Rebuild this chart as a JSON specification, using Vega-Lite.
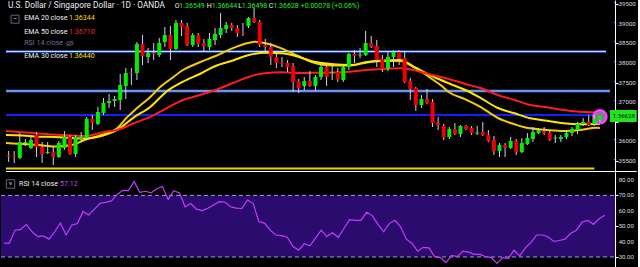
{
"$schema": "https://vega.github.io/schema/vega-lite/v6.json",
"background": "#000000",
"padding": 0,
"spacing": 0,
"bounds": "flush",
"config": {"view": {"stroke": null}, "font": "Roboto"},
"datasets": {
"c": [
{"i":0,"o":1.35640,"h":1.35755,"l":1.35475,"c":1.35615,"r":39.0},
{"i":1,"o":1.35640,"h":1.35755,"l":1.35449,"c":1.35615,"r":39.0},
{"i":2,"o":1.35576,"h":1.36213,"l":1.35551,"c":1.35984,"r":47.4},
{"i":3,"o":1.35959,"h":1.36060,"l":1.35882,"c":1.35984,"r":47.9},
{"i":4,"o":1.35831,"h":1.36111,"l":1.35806,"c":1.36035,"r":51.2},
{"i":5,"o":1.36162,"h":1.36239,"l":1.35602,"c":1.35857,"r":46.4},
{"i":6,"o":1.35857,"h":1.35984,"l":1.35449,"c":1.35678,"r":43.2},
{"i":7,"o":1.35704,"h":1.35984,"l":1.35678,"c":1.35729,"r":43.7},
{"i":8,"o":1.35729,"h":1.35857,"l":1.35398,"c":1.35602,"r":41.6},
{"i":9,"o":1.35602,"h":1.36010,"l":1.35576,"c":1.35959,"r":46.4},
{"i":10,"o":1.35831,"h":1.36264,"l":1.35780,"c":1.36111,"r":52.1},
{"i":11,"o":1.36111,"h":1.36162,"l":1.35653,"c":1.35678,"r":44.3},
{"i":12,"o":1.35678,"h":1.36162,"l":1.35602,"c":1.36111,"r":50.6},
{"i":13,"o":1.36060,"h":1.36239,"l":1.35984,"c":1.36111,"r":51.7},
{"i":14,"o":1.36086,"h":1.36621,"l":1.36035,"c":1.36570,"r":59.6},
{"i":15,"o":1.36570,"h":1.36672,"l":1.36290,"c":1.36468,"r":57.3},
{"i":16,"o":1.36443,"h":1.36876,"l":1.36417,"c":1.36749,"r":61.1},
{"i":17,"o":1.36723,"h":1.37105,"l":1.36672,"c":1.36978,"r":64.9},
{"i":18,"o":1.36978,"h":1.37207,"l":1.36850,"c":1.37029,"r":65.5},
{"i":19,"o":1.37029,"h":1.37156,"l":1.36876,"c":1.37080,"r":66.4},
{"i":20,"o":1.37054,"h":1.37717,"l":1.36799,"c":1.37436,"r":70.6},
{"i":21,"o":1.37411,"h":1.37870,"l":1.37080,"c":1.37742,"r":73.3},
{"i":22,"o":1.37755,"h":1.37870,"l":1.37436,"c":1.37729,"r":73.1},
{"i":23,"o":1.37742,"h":1.38532,"l":1.37564,"c":1.38481,"r":79.0},
{"i":24,"o":1.38481,"h":1.38710,"l":1.37946,"c":1.38175,"r":72.0},
{"i":25,"o":1.38150,"h":1.38379,"l":1.37997,"c":1.38252,"r":72.7},
{"i":26,"o":1.38252,"h":1.38506,"l":1.38073,"c":1.38213,"r":71.6},
{"i":27,"o":1.38201,"h":1.38634,"l":1.38150,"c":1.38506,"r":74.3},
{"i":28,"o":1.38532,"h":1.38914,"l":1.38405,"c":1.38710,"r":75.8},
{"i":29,"o":1.38710,"h":1.38940,"l":1.38073,"c":1.38354,"r":67.4},
{"i":30,"o":1.38354,"h":1.39092,"l":1.38328,"c":1.39016,"r":73.1},
{"i":31,"o":1.39016,"h":1.39092,"l":1.38685,"c":1.38914,"r":71.6},
{"i":32,"o":1.38940,"h":1.39016,"l":1.38430,"c":1.38455,"r":62.6},
{"i":33,"o":1.38455,"h":1.38761,"l":1.38405,"c":1.38710,"r":64.7},
{"i":34,"o":1.38710,"h":1.38761,"l":1.38405,"c":1.38481,"r":61.1},
{"i":35,"o":1.38506,"h":1.38608,"l":1.38277,"c":1.38430,"r":60.1},
{"i":36,"o":1.38405,"h":1.38761,"l":1.38328,"c":1.38608,"r":61.7},
{"i":37,"o":1.38583,"h":1.38889,"l":1.38455,"c":1.38736,"r":63.8},
{"i":38,"o":1.38710,"h":1.39271,"l":1.38634,"c":1.38889,"r":65.9},
{"i":39,"o":1.38863,"h":1.39042,"l":1.38761,"c":1.38965,"r":65.7},
{"i":40,"o":1.38965,"h":1.39016,"l":1.38812,"c":1.38889,"r":62.6},
{"i":41,"o":1.38889,"h":1.38965,"l":1.38659,"c":1.38761,"r":61.7},
{"i":42,"o":1.38774,"h":1.39016,"l":1.38685,"c":1.38749,"r":61.5},
{"i":43,"o":1.38940,"h":1.39169,"l":1.38889,"c":1.39143,"r":67.0},
{"i":44,"o":1.39143,"h":1.39398,"l":1.39016,"c":1.39042,"r":64.7},
{"i":45,"o":1.39042,"h":1.39092,"l":1.38405,"c":1.38455,"r":53.0},
{"i":46,"o":1.38455,"h":1.38608,"l":1.38252,"c":1.38405,"r":52.0},
{"i":47,"o":1.38405,"h":1.38506,"l":1.37946,"c":1.38150,"r":47.4},
{"i":48,"o":1.38150,"h":1.38252,"l":1.37870,"c":1.37997,"r":44.3},
{"i":49,"o":1.38010,"h":1.38150,"l":1.37895,"c":1.37984,"r":43.9},
{"i":50,"o":1.37997,"h":1.38073,"l":1.37768,"c":1.37895,"r":42.8},
{"i":51,"o":1.37920,"h":1.37997,"l":1.37258,"c":1.37513,"r":37.0},
{"i":52,"o":1.37538,"h":1.37589,"l":1.37233,"c":1.37360,"r":34.4},
{"i":53,"o":1.37411,"h":1.37640,"l":1.37309,"c":1.37538,"r":38.6},
{"i":54,"o":1.37538,"h":1.37793,"l":1.37385,"c":1.37411,"r":37.3},
{"i":55,"o":1.37411,"h":1.37691,"l":1.37283,"c":1.37640,"r":42.2},
{"i":56,"o":1.37640,"h":1.37997,"l":1.37564,"c":1.37895,"r":47.4},
{"i":57,"o":1.37895,"h":1.37946,"l":1.37411,"c":1.37640,"r":43.2},
{"i":58,"o":1.37742,"h":1.37946,"l":1.37564,"c":1.37768,"r":45.8},
{"i":59,"o":1.37768,"h":1.37870,"l":1.37513,"c":1.37589,"r":42.8},
{"i":60,"o":1.37564,"h":1.37946,"l":1.37513,"c":1.37895,"r":48.5},
{"i":61,"o":1.37895,"h":1.38252,"l":1.37819,"c":1.38226,"r":54.2},
{"i":62,"o":1.38226,"h":1.38328,"l":1.37997,"c":1.38175,"r":53.8},
{"i":63,"o":1.38188,"h":1.38379,"l":1.38124,"c":1.38213,"r":53.8},
{"i":64,"o":1.38201,"h":1.38812,"l":1.38175,"c":1.38506,"r":59.0},
{"i":65,"o":1.38506,"h":1.38685,"l":1.38379,"c":1.38405,"r":56.9},
{"i":66,"o":1.38430,"h":1.38583,"l":1.37895,"c":1.38073,"r":51.2},
{"i":67,"o":1.38099,"h":1.38201,"l":1.37768,"c":1.37844,"r":46.4},
{"i":68,"o":1.37844,"h":1.38277,"l":1.37793,"c":1.38150,"r":51.7},
{"i":69,"o":1.38150,"h":1.38328,"l":1.37895,"c":1.38277,"r":53.8},
{"i":70,"o":1.38277,"h":1.38328,"l":1.37946,"c":1.38099,"r":49.6},
{"i":71,"o":1.38124,"h":1.38277,"l":1.37487,"c":1.37513,"r":41.6},
{"i":72,"o":1.37538,"h":1.37615,"l":1.37054,"c":1.37334,"r":39.0},
{"i":73,"o":1.37360,"h":1.37385,"l":1.36774,"c":1.36927,"r":33.8},
{"i":74,"o":1.36927,"h":1.37182,"l":1.36850,"c":1.37080,"r":36.3},
{"i":75,"o":1.37080,"h":1.37334,"l":1.36952,"c":1.36978,"r":35.9},
{"i":76,"o":1.37003,"h":1.37080,"l":1.36366,"c":1.36468,"r":30.2},
{"i":77,"o":1.36468,"h":1.36621,"l":1.36290,"c":1.36417,"r":29.6},
{"i":78,"o":1.36392,"h":1.36443,"l":1.36035,"c":1.36111,"r":26.4},
{"i":79,"o":1.36111,"h":1.36366,"l":1.36060,"c":1.36315,"r":31.1},
{"i":80,"o":1.36315,"h":1.36468,"l":1.36162,"c":1.36188,"r":30.2},
{"i":81,"o":1.36188,"h":1.36417,"l":1.36111,"c":1.36392,"r":33.8},
{"i":82,"o":1.36392,"h":1.36417,"l":1.36290,"c":1.36315,"r":33.2},
{"i":83,"o":1.36341,"h":1.36392,"l":1.36162,"c":1.36213,"r":31.7},
{"i":84,"o":1.36201,"h":1.36392,"l":1.36162,"c":1.36226,"r":31.7},
{"i":85,"o":1.36239,"h":1.36494,"l":1.36137,"c":1.36162,"r":30.2},
{"i":86,"o":1.36162,"h":1.36290,"l":1.35984,"c":1.36010,"r":29.6},
{"i":87,"o":1.36035,"h":1.36137,"l":1.35653,"c":1.35755,"r":25.8},
{"i":88,"o":1.35755,"h":1.35959,"l":1.35602,"c":1.35908,"r":29.6},
{"i":89,"o":1.35908,"h":1.35959,"l":1.35602,"c":1.35831,"r":29.0},
{"i":90,"o":1.35831,"h":1.36111,"l":1.35806,"c":1.36010,"r":34.4},
{"i":91,"o":1.36010,"h":1.36060,"l":1.35653,"c":1.35729,"r":30.7},
{"i":92,"o":1.35729,"h":1.36086,"l":1.35704,"c":1.35959,"r":35.9},
{"i":93,"o":1.35933,"h":1.36213,"l":1.35908,"c":1.36086,"r":39.5},
{"i":94,"o":1.36060,"h":1.36366,"l":1.35984,"c":1.36239,"r":44.3},
{"i":95,"o":1.36213,"h":1.36341,"l":1.36188,"c":1.36290,"r":44.3},
{"i":96,"o":1.36264,"h":1.36366,"l":1.36162,"c":1.36213,"r":43.2},
{"i":97,"o":1.36213,"h":1.36264,"l":1.36010,"c":1.36035,"r":40.1},
{"i":98,"o":1.36073,"h":1.36162,"l":1.35959,"c":1.36099,"r":40.7},
{"i":99,"o":1.36060,"h":1.36162,"l":1.35984,"c":1.36111,"r":41.6},
{"i":100,"o":1.36111,"h":1.36290,"l":1.36060,"c":1.36213,"r":45.4},
{"i":101,"o":1.36213,"h":1.36366,"l":1.36137,"c":1.36315,"r":47.4},
{"i":102,"o":1.36290,"h":1.36494,"l":1.36188,"c":1.36443,"r":52.7},
{"i":103,"o":1.36443,"h":1.36596,"l":1.36392,"c":1.36494,"r":53.8},
{"i":104,"o":1.36494,"h":1.36672,"l":1.36392,"c":1.36417,"r":51.2},
{"i":105,"o":1.36443,"h":1.36672,"l":1.36392,"c":1.36570,"r":54.8},
{"i":106,"o":1.36549,"h":1.36644,"l":1.36498,"c":1.36628,"r":57.12}
],
"ema": [
{"s":"e20","i":-0.48,"p":1.35959},{"s":"e20","i":2.52,"p":1.35933},{"s":"e20","i":5.34,"p":1.35908},{"s":"e20","i":8.34,"p":1.35870},{"s":"e20","i":11.34,"p":1.35908},{"s":"e20","i":13.63,"p":1.36035},{"s":"e20","i":16.63,"p":1.36162},{"s":"e20","i":19.45,"p":1.36333},{"s":"e20","i":21.22,"p":1.36613},{"s":"e20","i":22.98,"p":1.36843},{"s":"e20","i":25.45,"p":1.37138},{"s":"e20","i":27.21,"p":1.37393},{"s":"e20","i":28.98,"p":1.37582},{"s":"e20","i":31.27,"p":1.37819},{"s":"e20","i":34.27,"p":1.38015},{"s":"e20","i":37.09,"p":1.38175},{"s":"e20","i":40.09,"p":1.38371},{"s":"e20","i":43.09,"p":1.38514},{"s":"e20","i":44.15,"p":1.38540},{"s":"e20","i":46.61,"p":1.38481},{"s":"e20","i":48.91,"p":1.38371},{"s":"e20","i":51.90,"p":1.38175},{"s":"e20","i":54.20,"p":1.38030},{"s":"e20","i":58.25,"p":1.37933},{"s":"e20","i":61.25,"p":1.37933},{"s":"e20","i":64.25,"p":1.38010},{"s":"e20","i":67.07,"p":1.38048},{"s":"e20","i":70.07,"p":1.38048},{"s":"e20","i":73.07,"p":1.37857},{"s":"e20","i":75.89,"p":1.37589},{"s":"e20","i":77.65,"p":1.37411},{"s":"e20","i":78.89,"p":1.37258},{"s":"e20","i":81.89,"p":1.37072},{"s":"e20","i":84.71,"p":1.36868},{"s":"e20","i":87.71,"p":1.36596},{"s":"e20","i":90.71,"p":1.36435},{"s":"e20","i":92.47,"p":1.36359},{"s":"e20","i":93.53,"p":1.36333},{"s":"e20","i":96.52,"p":1.36290},{"s":"e20","i":99.52,"p":1.36264},{"s":"e20","i":102.34,"p":1.36290},{"s":"e20","i":105.34,"p":1.36348},{"s":"e20","i":106.0,"p":1.36344},
{"s":"e30","i":-0.48,"p":1.36162},{"s":"e30","i":2.52,"p":1.36150},{"s":"e30","i":5.34,"p":1.36119},{"s":"e30","i":8.34,"p":1.36111},{"s":"e30","i":11.34,"p":1.36086},{"s":"e30","i":13.63,"p":1.36073},{"s":"e30","i":16.63,"p":1.36137},{"s":"e30","i":19.45,"p":1.36290},{"s":"e30","i":22.45,"p":1.36613},{"s":"e30","i":25.45,"p":1.36884},{"s":"e30","i":28.27,"p":1.37266},{"s":"e30","i":31.27,"p":1.37520},{"s":"e30","i":34.27,"p":1.37717},{"s":"e30","i":37.09,"p":1.37920},{"s":"e30","i":40.09,"p":1.38056},{"s":"e30","i":43.09,"p":1.38201},{"s":"e30","i":45.91,"p":1.38259},{"s":"e30","i":48.91,"p":1.38244},{"s":"e30","i":51.90,"p":1.38157},{"s":"e30","i":54.20,"p":1.38048},{"s":"e30","i":58.25,"p":1.37964},{"s":"e30","i":61.25,"p":1.37946},{"s":"e30","i":64.25,"p":1.38022},{"s":"e30","i":67.07,"p":1.38061},{"s":"e30","i":70.07,"p":1.38073},{"s":"e30","i":73.07,"p":1.37870},{"s":"e30","i":75.89,"p":1.37666},{"s":"e30","i":78.89,"p":1.37480},{"s":"e30","i":81.89,"p":1.37309},{"s":"e30","i":84.71,"p":1.37098},{"s":"e30","i":87.71,"p":1.36850},{"s":"e30","i":90.71,"p":1.36715},{"s":"e30","i":93.53,"p":1.36588},{"s":"e30","i":96.52,"p":1.36527},{"s":"e30","i":99.52,"p":1.36461},{"s":"e30","i":102.34,"p":1.36435},{"s":"e30","i":105.34,"p":1.36443},{"s":"e30","i":106.0,"p":1.36440},
{"s":"e50","i":-0.48,"p":1.36264},{"s":"e50","i":5.34,"p":1.36201},{"s":"e50","i":11.34,"p":1.36150},{"s":"e50","i":13.63,"p":1.36137},{"s":"e50","i":17.16,"p":1.36239},{"s":"e50","i":19.45,"p":1.36290},{"s":"e50","i":22.45,"p":1.36461},{"s":"e50","i":25.45,"p":1.36629},{"s":"e50","i":28.27,"p":1.36843},{"s":"e50","i":31.27,"p":1.37054},{"s":"e50","i":34.27,"p":1.37182},{"s":"e50","i":37.09,"p":1.37309},{"s":"e50","i":40.09,"p":1.37480},{"s":"e50","i":43.09,"p":1.37648},{"s":"e50","i":45.91,"p":1.37734},{"s":"e50","i":48.91,"p":1.37760},{"s":"e50","i":52.43,"p":1.37742},{"s":"e50","i":55.43,"p":1.37750},{"s":"e50","i":58.25,"p":1.37755},{"s":"e50","i":61.25,"p":1.37775},{"s":"e50","i":64.25,"p":1.37819},{"s":"e50","i":67.07,"p":1.37844},{"s":"e50","i":70.07,"p":1.37862},{"s":"e50","i":73.07,"p":1.37801},{"s":"e50","i":75.89,"p":1.37691},{"s":"e50","i":78.89,"p":1.37589},{"s":"e50","i":81.89,"p":1.37462},{"s":"e50","i":84.71,"p":1.37352},{"s":"e50","i":87.71,"p":1.37182},{"s":"e50","i":90.71,"p":1.37054},{"s":"e50","i":93.53,"p":1.36927},{"s":"e50","i":96.52,"p":1.36868},{"s":"e50","i":99.52,"p":1.36799},{"s":"e50","i":102.34,"p":1.36756},{"s":"e50","i":105.34,"p":1.36731},{"s":"e50","i":106.0,"p":1.36710}
],
"hl": [
{"k":"lb","p":1.38290,"a":-0.476,"b":107.1},
{"k":"lb","p":1.37283,"a":-0.476,"b":107.81},
{"k":"b","p":1.36672,"a":-0.476,"b":106.0}
],
"pt": [{"v":1.355},{"v":1.36},{"v":1.37},{"v":1.375},{"v":1.38},{"v":1.385},{"v":1.39},{"v":1.395}],
"rt": [{"v":30},{"v":40},{"v":50},{"v":60},{"v":70},{"v":80}]
},
"vconcat": [
{
"width": 614,
"height": 172,
"layer": [
{"data":{"values":[{"a":-0.476,"b":105.0,"p":1.35309}]},"mark":{"type":"rule","color":"#f2d200","strokeWidth":2},
 "encoding":{"x":{"field":"a","type":"quantitative","scale":{"domain":[-0.476,107.81],"nice":false,"zero":false},"axis":null},"x2":{"field":"b"},
 "y":{"field":"p","type":"quantitative","scale":{"domain":[1.3522,1.39602],"nice":false,"zero":false},
  "axis":{"orient":"right","values":[1.355,1.36,1.365,1.37,1.375,1.38,1.385,1.39,1.395],"title":null,"grid":false,"domain":true,"domainColor":"#ffffff","domainWidth":1,"ticks":true,"tickColor":"#ffffff","tickSize":3,"labels":false}}}},
{"data":{"name":"pt"},"mark":{"type":"text","align":"left","baseline":"middle","fontSize":6.1,"color":"#dcdce8","clip":false},
 "encoding":{"x":{"datum":108.45,"type":"quantitative","scale":{"domain":[-0.476,107.81],"nice":false,"zero":false},"axis":null},"y":{"field":"v","type":"quantitative","scale":{"domain":[1.3522,1.39602],"nice":false,"zero":false}},"text":{"field":"v","type":"quantitative","format":".5f"}}},
{"data":{"name":"hl"},"transform":[{"filter":"datum.k == 'lb'"}],"mark":{"type":"rule","color":"#2f5bff","strokeWidth":3,"opacity":0.75},
 "encoding":{"x":{"field":"a","type":"quantitative","scale":{"domain":[-0.476,107.81],"nice":false,"zero":false},"axis":null},"x2":{"field":"b"},"y":{"field":"p","type":"quantitative","scale":{"domain":[1.3522,1.39602],"nice":false,"zero":false}}}},
{"data":{"name":"hl"},"transform":[{"filter":"datum.k == 'lb'"}],"mark":{"type":"rule","color":"#c0e6ff","strokeWidth":1.2},
 "encoding":{"x":{"field":"a","type":"quantitative","scale":{"domain":[-0.476,107.81],"nice":false,"zero":false},"axis":null},"x2":{"field":"b"},"y":{"field":"p","type":"quantitative","scale":{"domain":[1.3522,1.39602],"nice":false,"zero":false}}}},
{"data":{"name":"hl"},"transform":[{"filter":"datum.k == 'b'"}],"mark":{"type":"rule","color":"#1020ff","strokeWidth":2},
 "encoding":{"x":{"field":"a","type":"quantitative","scale":{"domain":[-0.476,107.81],"nice":false,"zero":false},"axis":null},"x2":{"field":"b"},"y":{"field":"p","type":"quantitative","scale":{"domain":[1.3522,1.39602],"nice":false,"zero":false}}}},
{"data":{"name":"ema"},"mark":{"type":"line","strokeWidth":2,"interpolate":"monotone"},
 "encoding":{"x":{"field":"i","type":"quantitative","scale":{"domain":[-0.476,107.81],"nice":false,"zero":false},"axis":null},"y":{"field":"p","type":"quantitative","scale":{"domain":[1.3522,1.39602],"nice":false,"zero":false}},
  "color":{"field":"s","type":"nominal","scale":{"domain":["e50","e30","e20"],"range":["#ff1c1c","#ffe600","#f5cc00"]},"legend":null}}},
{"data":{"values":[{}]},"mark":{"type":"point","filled":true,"size":170,"fill":"#7d7d95","stroke":"#ff3dff","strokeWidth":2.5,"opacity":1},
 "encoding":{"x":{"datum":106,"type":"quantitative","scale":{"domain":[-0.476,107.81],"nice":false,"zero":false},"axis":null},"y":{"datum":1.36628,"type":"quantitative","scale":{"domain":[1.3522,1.39602],"nice":false,"zero":false}}}},
{"data":{"name":"c"},"mark":{"type":"rule","color":"#d0d0ee","strokeWidth":1},
 "encoding":{"x":{"field":"i","type":"quantitative","scale":{"domain":[-0.476,107.81],"nice":false,"zero":false},"axis":null},"y":{"field":"l","type":"quantitative","scale":{"domain":[1.3522,1.39602],"nice":false,"zero":false}},"y2":{"field":"h"}}},
{"data":{"name":"c"},"mark":{"type":"bar","size":4},
 "encoding":{"x":{"field":"i","type":"quantitative","scale":{"domain":[-0.476,107.81],"nice":false,"zero":false},"axis":null},"y":{"field":"o","type":"quantitative","scale":{"domain":[1.3522,1.39602],"nice":false,"zero":false}},"y2":{"field":"c"},
  "color":{"condition":{"test":"datum.c >= datum.o","value":"#00f000"},"value":"#f00000"}}},
{"data":{"values":[{}]},"mark":{"type":"rect","color":"#1ee61e","clip":false},
 "encoding":{"x":{"datum":107.81,"type":"quantitative","scale":{"domain":[-0.476,107.81],"nice":false,"zero":false},"axis":null},"x2":{"datum":112.6},"y":{"datum":1.36799,"type":"quantitative","scale":{"domain":[1.3522,1.39602],"nice":false,"zero":false}},"y2":{"datum":1.36494}}},
{"data":{"values":[{}]},"mark":{"type":"text","align":"left","baseline":"middle","fontSize":6.1,"color":"#0a0a0a","clip":false},
 "encoding":{"x":{"datum":108.3,"type":"quantitative","scale":{"domain":[-0.476,107.81],"nice":false,"zero":false},"axis":null},"y":{"datum":1.36647,"type":"quantitative","scale":{"domain":[1.3522,1.39602],"nice":false,"zero":false}},"text":{"value":"1.36628"}}},
{"data":{"values":[{}]},"mark":{"type":"rule","color":"#ffffff","strokeWidth":1,"clip":false},
 "encoding":{"x":{"datum":-0.476,"type":"quantitative","scale":{"domain":[-0.476,107.81],"nice":false,"zero":false},"axis":null},"x2":{"datum":112.6},"y":{"datum":1.35233,"type":"quantitative","scale":{"domain":[1.3522,1.39602],"nice":false,"zero":false}}}},
{"data":{"values":[{}]},"mark":{"type":"text","align":"left","baseline":"middle","fontSize":8.3,"color":"#ececf4"},
 "encoding":{"x":{"datum":-0.12,"type":"quantitative","scale":{"domain":[-0.476,107.81],"nice":false,"zero":false},"axis":null},"y":{"datum":1.39449,"type":"quantitative","scale":{"domain":[1.3522,1.39602],"nice":false,"zero":false}},"text":{"value":"U.S. Dollar / Singapore Dollar · 1D · OANDA"}}},
{"data":{"values":[{}]},"mark":{"type":"text","align":"left","baseline":"middle","fontSize":7,"color":"#ececf4"},
 "encoding":{"x":{"datum":29.77,"type":"quantitative","scale":{"domain":[-0.476,107.81],"nice":false,"zero":false},"axis":null},"y":{"datum":1.39449,"type":"quantitative","scale":{"domain":[1.3522,1.39602],"nice":false,"zero":false}},"text":{"value":"O"}}},
{"data":{"values":[{}]},"mark":{"type":"text","align":"left","baseline":"middle","fontSize":7,"color":"#22ee22"},
 "encoding":{"x":{"datum":30.6,"type":"quantitative","scale":{"domain":[-0.476,107.81],"nice":false,"zero":false},"axis":null},"y":{"datum":1.39449,"type":"quantitative","scale":{"domain":[1.3522,1.39602],"nice":false,"zero":false}},"text":{"value":"1.36549"}}},
{"data":{"values":[{}]},"mark":{"type":"text","align":"left","baseline":"middle","fontSize":7,"color":"#ececf4"},
 "encoding":{"x":{"datum":35.5,"type":"quantitative","scale":{"domain":[-0.476,107.81],"nice":false,"zero":false},"axis":null},"y":{"datum":1.39449,"type":"quantitative","scale":{"domain":[1.3522,1.39602],"nice":false,"zero":false}},"text":{"value":"H"}}},
{"data":{"values":[{}]},"mark":{"type":"text","align":"left","baseline":"middle","fontSize":7,"color":"#22ee22"},
 "encoding":{"x":{"datum":36.4,"type":"quantitative","scale":{"domain":[-0.476,107.81],"nice":false,"zero":false},"axis":null},"y":{"datum":1.39449,"type":"quantitative","scale":{"domain":[1.3522,1.39602],"nice":false,"zero":false}},"text":{"value":"1.36644"}}},
{"data":{"values":[{}]},"mark":{"type":"text","align":"left","baseline":"middle","fontSize":7,"color":"#ececf4"},
 "encoding":{"x":{"datum":41.15,"type":"quantitative","scale":{"domain":[-0.476,107.81],"nice":false,"zero":false},"axis":null},"y":{"datum":1.39449,"type":"quantitative","scale":{"domain":[1.3522,1.39602],"nice":false,"zero":false}},"text":{"value":"L"}}},
{"data":{"values":[{}]},"mark":{"type":"text","align":"left","baseline":"middle","fontSize":7,"color":"#22ee22"},
 "encoding":{"x":{"datum":41.8,"type":"quantitative","scale":{"domain":[-0.476,107.81],"nice":false,"zero":false},"axis":null},"y":{"datum":1.39449,"type":"quantitative","scale":{"domain":[1.3522,1.39602],"nice":false,"zero":false}},"text":{"value":"1.36498"}}},
{"data":{"values":[{}]},"mark":{"type":"text","align":"left","baseline":"middle","fontSize":7,"color":"#ececf4"},
 "encoding":{"x":{"datum":46.61,"type":"quantitative","scale":{"domain":[-0.476,107.81],"nice":false,"zero":false},"axis":null},"y":{"datum":1.39449,"type":"quantitative","scale":{"domain":[1.3522,1.39602],"nice":false,"zero":false}},"text":{"value":"C"}}},
{"data":{"values":[{}]},"mark":{"type":"text","align":"left","baseline":"middle","fontSize":7,"color":"#22ee22"},
 "encoding":{"x":{"datum":47.45,"type":"quantitative","scale":{"domain":[-0.476,107.81],"nice":false,"zero":false},"axis":null},"y":{"datum":1.39449,"type":"quantitative","scale":{"domain":[1.3522,1.39602],"nice":false,"zero":false}},"text":{"value":"1.36628"}}},
{"data":{"values":[{}]},"mark":{"type":"text","align":"left","baseline":"middle","fontSize":7,"color":"#22ee22"},
 "encoding":{"x":{"datum":52.35,"type":"quantitative","scale":{"domain":[-0.476,107.81],"nice":false,"zero":false},"axis":null},"y":{"datum":1.39449,"type":"quantitative","scale":{"domain":[1.3522,1.39602],"nice":false,"zero":false}},"text":{"value":"+0.00078 (+0.06%)"}}},
{"data":{"values":[{}]},"mark":{"type":"point","shape":"square","filled":false,"size":64,"stroke":"#8a90c8","strokeWidth":1},
 "encoding":{"x":{"datum":1.15,"type":"quantitative","scale":{"domain":[-0.476,107.81],"nice":false,"zero":false},"axis":null},"y":{"datum":1.39113,"type":"quantitative","scale":{"domain":[1.3522,1.39602],"nice":false,"zero":false}}}},
{"data":{"values":[{}]},"mark":{"type":"text","align":"center","baseline":"middle","fontSize":7,"color":"#ececf4"},
 "encoding":{"x":{"datum":1.15,"type":"quantitative","scale":{"domain":[-0.476,107.81],"nice":false,"zero":false},"axis":null},"y":{"datum":1.39113,"type":"quantitative","scale":{"domain":[1.3522,1.39602],"nice":false,"zero":false}},"text":{"value":"−"}}},
{"data":{"values":[{}]},"mark":{"type":"text","align":"left","baseline":"middle","fontSize":7.1,"color":"#ececf4"},
 "encoding":{"x":{"datum":2.79,"type":"quantitative","scale":{"domain":[-0.476,107.81],"nice":false,"zero":false},"axis":null},"y":{"datum":1.39131,"type":"quantitative","scale":{"domain":[1.3522,1.39602],"nice":false,"zero":false}},"text":{"value":"EMA 20 close"}}},
{"data":{"values":[{}]},"mark":{"type":"text","align":"left","baseline":"middle","fontSize":7.1,"color":"#ffd700"},
 "encoding":{"x":{"datum":10.81,"type":"quantitative","scale":{"domain":[-0.476,107.81],"nice":false,"zero":false},"axis":null},"y":{"datum":1.39131,"type":"quantitative","scale":{"domain":[1.3522,1.39602],"nice":false,"zero":false}},"text":{"value":"1.36344"}}},
{"data":{"values":[{}]},"mark":{"type":"text","align":"left","baseline":"middle","fontSize":7.1,"color":"#ececf4"},
 "encoding":{"x":{"datum":2.79,"type":"quantitative","scale":{"domain":[-0.476,107.81],"nice":false,"zero":false},"axis":null},"y":{"datum":1.38799,"type":"quantitative","scale":{"domain":[1.3522,1.39602],"nice":false,"zero":false}},"text":{"value":"EMA 50 close"}}},
{"data":{"values":[{}]},"mark":{"type":"text","align":"left","baseline":"middle","fontSize":7.1,"color":"#ff2020"},
 "encoding":{"x":{"datum":10.81,"type":"quantitative","scale":{"domain":[-0.476,107.81],"nice":false,"zero":false},"axis":null},"y":{"datum":1.38799,"type":"quantitative","scale":{"domain":[1.3522,1.39602],"nice":false,"zero":false}},"text":{"value":"1.36710"}}},
{"data":{"values":[{}]},"mark":{"type":"text","align":"left","baseline":"middle","fontSize":7.1,"color":"#6c70a6"},
 "encoding":{"x":{"datum":2.79,"type":"quantitative","scale":{"domain":[-0.476,107.81],"nice":false,"zero":false},"axis":null},"y":{"datum":1.38494,"type":"quantitative","scale":{"domain":[1.3522,1.39602],"nice":false,"zero":false}},"text":{"value":"RSI 14 close"}}},
{"data":{"values":[{}]},"mark":{"type":"point","shape":"M-1,0 Q0,-0.9 1,0 Q0,0.9 -1,0 Z M-0.75,0.75 L0.75,-0.75","filled":false,"size":60,"stroke":"#7a7fb5","strokeWidth":1},
 "encoding":{"x":{"datum":10.99,"type":"quantitative","scale":{"domain":[-0.476,107.81],"nice":false,"zero":false},"axis":null},"y":{"datum":1.38494,"type":"quantitative","scale":{"domain":[1.3522,1.39602],"nice":false,"zero":false}}}},
{"data":{"values":[{}]},"mark":{"type":"text","align":"left","baseline":"middle","fontSize":7.1,"color":"#ececf4"},
 "encoding":{"x":{"datum":2.79,"type":"quantitative","scale":{"domain":[-0.476,107.81],"nice":false,"zero":false},"axis":null},"y":{"datum":1.38163,"type":"quantitative","scale":{"domain":[1.3522,1.39602],"nice":false,"zero":false}},"text":{"value":"EMA 30 close"}}},
{"data":{"values":[{}]},"mark":{"type":"text","align":"left","baseline":"middle","fontSize":7.1,"color":"#ffe600"},
 "encoding":{"x":{"datum":10.81,"type":"quantitative","scale":{"domain":[-0.476,107.81],"nice":false,"zero":false},"axis":null},"y":{"datum":1.38163,"type":"quantitative","scale":{"domain":[1.3522,1.39602],"nice":false,"zero":false}},"text":{"value":"1.36440"}}}
]
},
{
"width": 614,
"height": 95,
"layer": [
{"data":{"name":"c"},"mark":{"type":"line","color":"#c23cff","strokeWidth":1.2,"opacity":0},
 "encoding":{"x":{"field":"i","type":"quantitative","scale":{"domain":[-0.476,107.81],"nice":false,"zero":false},"axis":null},
  "y":{"field":"r","type":"quantitative","scale":{"domain":[23.506,85.195],"nice":false,"zero":false},
   "axis":{"orient":"right","values":[30,40,50,60,70,80],"title":null,"grid":false,"domain":true,"domainColor":"#ffffff","domainWidth":1,"ticks":true,"tickColor":"#ffffff","tickSize":3,"labels":false}}}},
{"data":{"values":[{}]},"mark":{"type":"rect","color":"#2b0b6e"},
 "encoding":{"x":{"datum":-0.476,"type":"quantitative","scale":{"domain":[-0.476,107.81],"nice":false,"zero":false},"axis":null},"x2":{"datum":107.81},"y":{"datum":30,"type":"quantitative","scale":{"domain":[23.506,85.195],"nice":false,"zero":false}},"y2":{"datum":70}}},
{"data":{"values":[{"v":70},{"v":30}]},"mark":{"type":"rule","color":"#a898e6","strokeWidth":1,"strokeDash":[4,3]},
 "encoding":{"x":{"datum":-0.476,"type":"quantitative","scale":{"domain":[-0.476,107.81],"nice":false,"zero":false},"axis":null},"x2":{"datum":107.81},"y":{"field":"v","type":"quantitative","scale":{"domain":[23.506,85.195],"nice":false,"zero":false}}}},
{"data":{"name":"rt"},"mark":{"type":"text","align":"left","baseline":"middle","fontSize":6.1,"color":"#dcdce8","clip":false},
 "encoding":{"x":{"datum":108.45,"type":"quantitative","scale":{"domain":[-0.476,107.81],"nice":false,"zero":false},"axis":null},"y":{"field":"v","type":"quantitative","scale":{"domain":[23.506,85.195],"nice":false,"zero":false}},"text":{"field":"v","type":"quantitative","format":".2f"}}},
{"data":{"name":"c"},"mark":{"type":"line","color":"#c23cff","strokeWidth":1.2},
 "encoding":{"x":{"field":"i","type":"quantitative","scale":{"domain":[-0.476,107.81],"nice":false,"zero":false},"axis":null},
  "y":{"field":"r","type":"quantitative","scale":{"domain":[23.506,85.195],"nice":false,"zero":false}}}},
{"data":{"values":[{}]},"mark":{"type":"point","shape":"square","filled":false,"size":72,"stroke":"#8a90c8","strokeWidth":1},
 "encoding":{"x":{"datum":1.2,"type":"quantitative","scale":{"domain":[-0.476,107.81],"nice":false,"zero":false},"axis":null},"y":{"datum":77.4,"type":"quantitative","scale":{"domain":[23.506,85.195],"nice":false,"zero":false}}}},
{"data":{"values":[{}]},"mark":{"type":"text","align":"center","baseline":"middle","fontSize":6,"color":"#ececf4"},
 "encoding":{"x":{"datum":1.2,"type":"quantitative","scale":{"domain":[-0.476,107.81],"nice":false,"zero":false},"axis":null},"y":{"datum":77.8,"type":"quantitative","scale":{"domain":[23.506,85.195],"nice":false,"zero":false}},"text":{"value":"v"}}},
{"data":{"values":[{}]},"mark":{"type":"text","align":"left","baseline":"middle","fontSize":7.1,"color":"#ececf4"},
 "encoding":{"x":{"datum":2.7,"type":"quantitative","scale":{"domain":[-0.476,107.81],"nice":false,"zero":false},"axis":null},"y":{"datum":77.4,"type":"quantitative","scale":{"domain":[23.506,85.195],"nice":false,"zero":false}},"text":{"value":"RSI 14 close"}}},
{"data":{"values":[{}]},"mark":{"type":"text","align":"left","baseline":"middle","fontSize":7.1,"color":"#c040ff"},
 "encoding":{"x":{"datum":9.93,"type":"quantitative","scale":{"domain":[-0.476,107.81],"nice":false,"zero":false},"axis":null},"y":{"datum":77.4,"type":"quantitative","scale":{"domain":[23.506,85.195],"nice":false,"zero":false}},"text":{"value":"57.12"}}}
]
}
]
}
